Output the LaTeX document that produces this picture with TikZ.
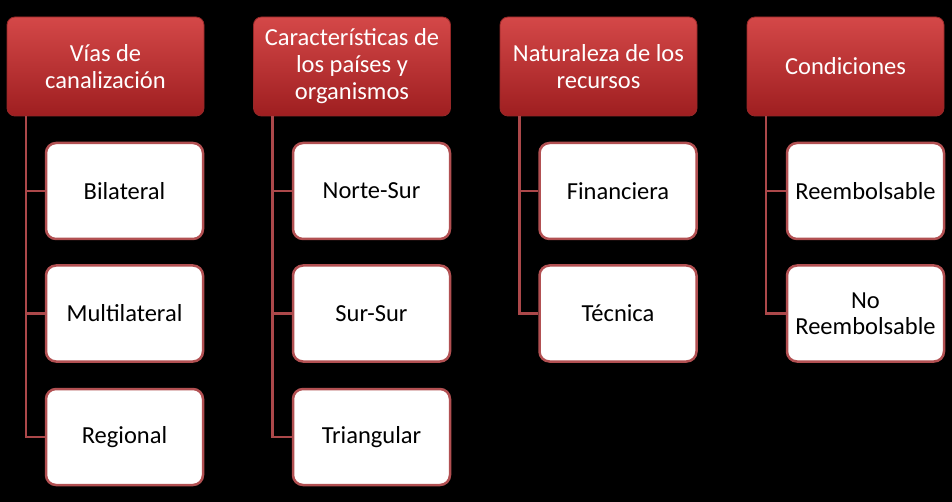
\documentclass[tikz,border=0pt]{standalone}
\usepackage{fontspec}
\setmainfont{Carlito}
\definecolor{hdrtop}{RGB}{212,72,72}
\definecolor{hdrbot}{RGB}{158,30,32}
\definecolor{hdrline}{RGB}{150,40,40}
\definecolor{boxline}{RGB}{178,80,82}
\definecolor{connc}{RGB}{172,72,74}
\tikzset{
  hdr/.style={rounded corners=8pt, top color=hdrtop, bottom color=hdrbot, draw=hdrline, line width=0.8pt,
    minimum width=197pt, minimum height=99pt, inner sep=0pt, text=white, align=center,
    font=\fontsize{24.5}{27}\selectfont},
  child/.style={rounded corners=10pt, fill=white, draw=boxline, line width=2.5pt,
    minimum width=157pt, minimum height=96pt, inner sep=0pt, text=black, align=center,
    font=\fontsize{24.5}{26}\selectfont},
  conn/.style={draw=connc, line width=2.2pt}
}
\begin{document}
\begin{tikzpicture}[x=1pt,y=-1pt]
\fill[black] (0,0) rectangle (952,502);
\useasboundingbox (0,0) rectangle (952,502);
% headers
\node[hdr] (h1) at (105.5,66.5) {Vías de\\canalización};
\node[hdr] (h2) at (352,66.5) {Características de\\los países y\\organismos};
\node[hdr] (h3) at (598.5,66.5) {Naturaleza de los\\recursos};
\node[hdr] (h4) at (845.5,66.5) {Condiciones};
% vertical line coordinates
\coordinate (v1) at (26,0);
\coordinate (v2) at (272.5,0);
\coordinate (v3) at (519.5,0);
\coordinate (v4) at (766,0);
% children
\node[child] (c11) at (124.5,191) {Bilateral};
\node[child] (c12) at (124.5,313.5) {Multilateral};
\node[child] (c13) at (124.5,437) {Regional};
\node[child] (c21) at (371.5,191) {Norte-Sur};
\node[child] (c22) at (371.5,313.5) {Sur-Sur};
\node[child] (c23) at (371.5,437) {Triangular};
\node[child] (c31) at (618,191) {Financiera};
\node[child] (c32) at (618,313.5) {Técnica};
\node[child] (c41) at (865.5,191) {Reembolsable};
\node[child] (c42) at (865.5,313.5) {No\\Reembolsable};
% connectors
\draw[conn] (v1 |- h1.south) |- (c13.west);
\draw[conn] (v1 |- c11.west) -- (c11.west);
\draw[conn] (v1 |- c12.west) -- (c12.west);
\draw[conn] (v2 |- h2.south) |- (c23.west);
\draw[conn] (v2 |- c21.west) -- (c21.west);
\draw[conn] (v2 |- c22.west) -- (c22.west);
\draw[conn] (v3 |- h3.south) |- (c32.west);
\draw[conn] (v3 |- c31.west) -- (c31.west);
\draw[conn] (v4 |- h4.south) |- (c42.west);
\draw[conn] (v4 |- c41.west) -- (c41.west);
\end{tikzpicture}
\end{document}
